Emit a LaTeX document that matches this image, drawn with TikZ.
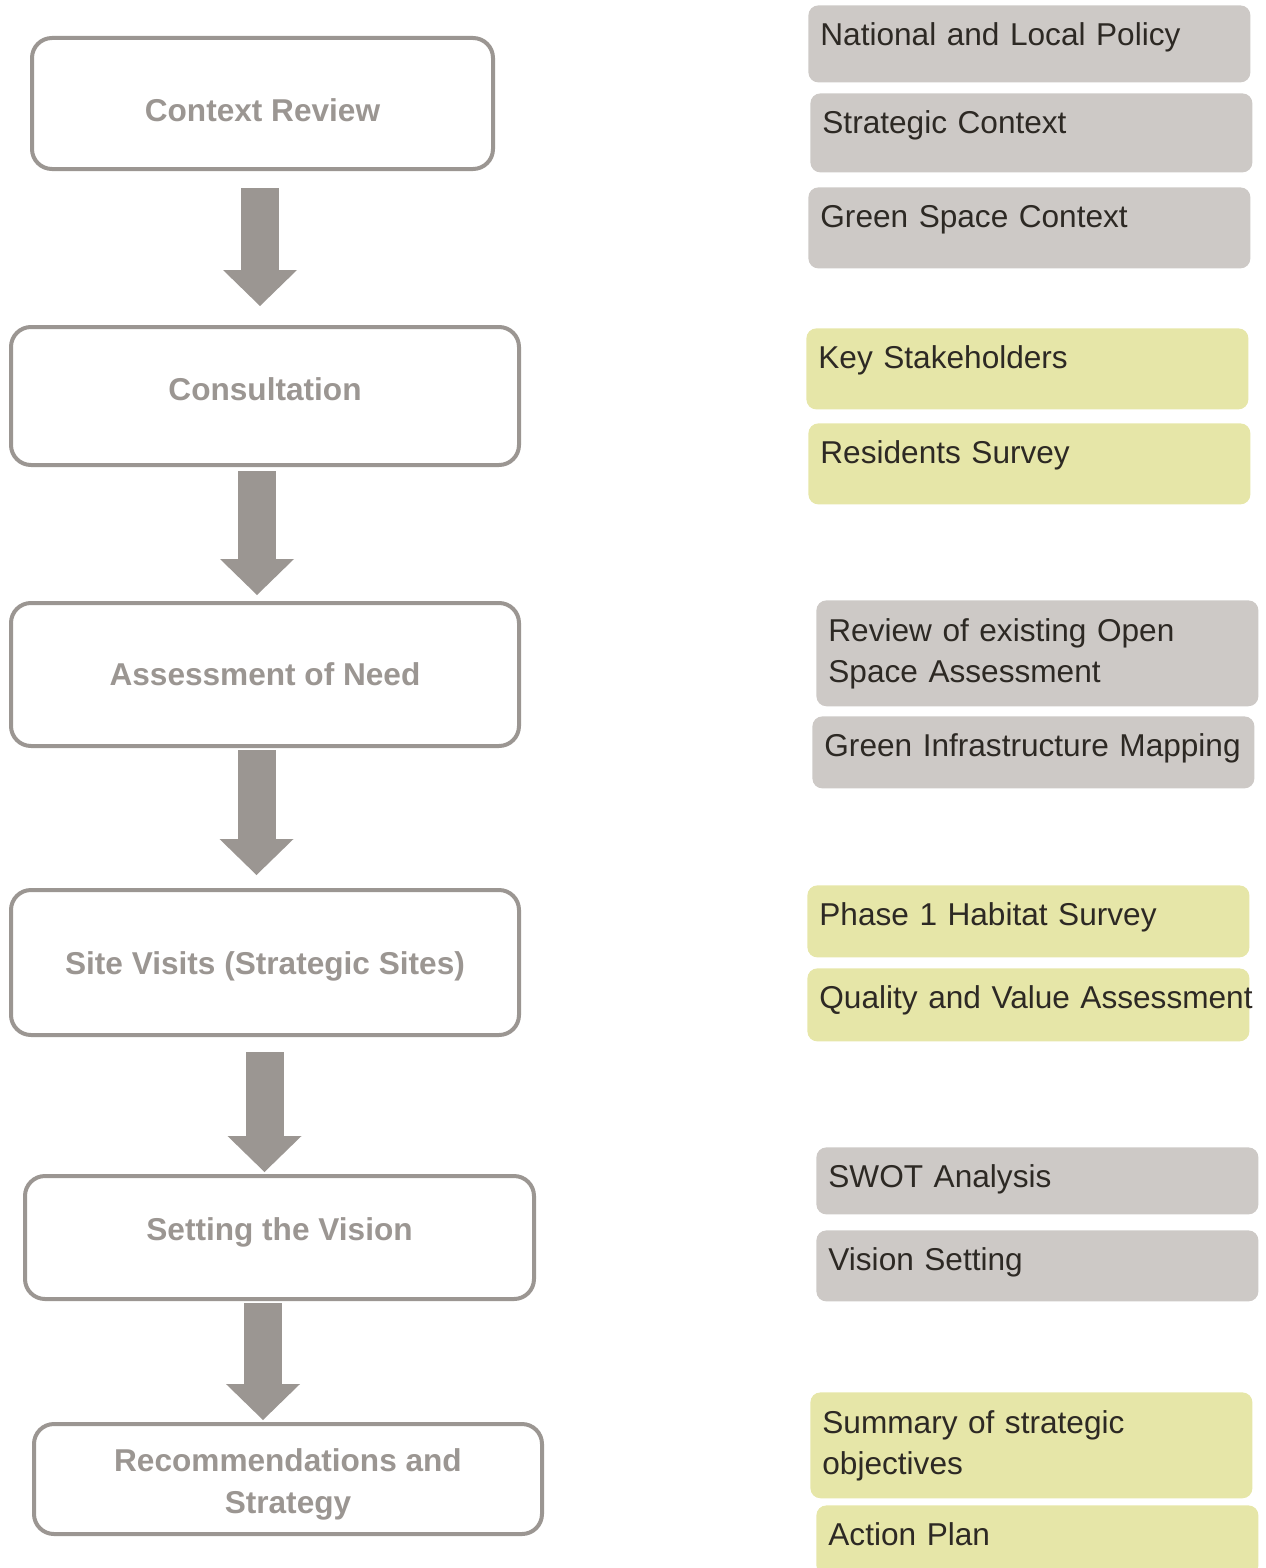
\documentclass[tikz,border=0pt]{standalone}
\usepackage{fontspec}
\setmainfont{Liberation Sans}
\usetikzlibrary{arrows.meta}
\definecolor{stagegrey}{HTML}{9B9692}
\definecolor{notegrey}{HTML}{CDC9C6}
\definecolor{noteyellow}{HTML}{E6E6A8}
\definecolor{notetext}{HTML}{2D2924}

\begin{document}
\begin{tikzpicture}[x=0.5pt,y=-0.5pt,
    stage/.style={draw=stagegrey,line width=2pt,rounded corners=10pt,align=center,
      text=stagegrey,font=\fontsize{15.8}{21}\selectfont\bfseries},
    note/.style={fill=#1,rounded corners=5pt,anchor=north west,inner xsep=6pt,
      inner ysep=8.85pt,text width=209pt,align=left,text=notetext,
      font=\fontsize{15.8}{20.5}\selectfont},
    onerow/.style={text height=11.3pt,text depth=#1},
    flow/.style={stagegrey,line width=19pt,
      -{Triangle[length=18pt,width=37pt,line width=0pt]}}]
  \useasboundingbox (0,0) rectangle (1265,1568);

  % stages
  \node[stage,minimum width=230.5pt,minimum height=65.5pt,text height=18.5pt,text depth=0pt]
    (ctx) at (262.5,103.5) {Context Review};
  \node[stage,minimum width=254pt,minimum height=69pt,text height=11.5pt,text depth=7pt]
    (cons) at (265,396) {Consultation};
  \node[stage,minimum width=254pt,minimum height=71.5pt] (need) at (265,674.5) {Assessment of Need};
  \node[stage,minimum width=254pt,minimum height=72.5pt,text height=15.5pt,text depth=3.3pt]
    (site) at (265,962.5) {Site Visits (Strategic Sites)};
  \node[stage,minimum width=254.5pt,minimum height=61.5pt,text height=11.5pt,text depth=8.3pt]
    (vision) at (279.5,1237.5) {Setting the Vision};
  \node[stage,minimum width=254pt,minimum height=55pt]
    (recs) at (288,1479) {\rule{0pt}{16.5pt}Recommendations and\\Strategy};

  \draw[flow,shorten <=8.5pt,shorten >=9.5pt] ([xshift=-1.25pt]ctx.south) -- ([xshift=-2.5pt]cons.north);
  \draw[flow,shorten <=2pt,shorten >=3pt] ([xshift=-4pt]cons.south) -- ([xshift=-4pt]need.north);
  \draw[flow,shorten <=1pt,shorten >=6.5pt] ([xshift=-4.25pt]need.south) -- ([xshift=-4.25pt]site.north);
  \draw[flow,shorten <=7.5pt,shorten >=1pt] ([xshift=-0.25pt]site.south) -- ([xshift=-7.5pt]vision.north);
  \draw[flow,shorten <=1pt,shorten >=1pt] ([xshift=-8.25pt]vision.south) -- ([xshift=-12.5pt]recs.north);

  % notes
  \node[note=notegrey,onerow=9.5pt] (policy) at (808,5) {National and Local Policy};
  \node[note=notegrey,onerow=10.5pt] (strat) at (810,93) {Strategic Context};
  \node[note=notegrey,onerow=11.5pt] (green) at (808,187) {Green Space Context};
  \node[note=noteyellow,onerow=11.5pt] (stake) at (806,328) {Key Stakeholders};
  \node[note=noteyellow,onerow=11.5pt] (survey) at (808,423) {Residents Survey};
  \node[note=notegrey,minimum height=50pt] (review) at (816,600) {Review of existing Open\\Space Assessment};
  \node[note=notegrey,onerow=7pt] (gimap) at (812,716) {\mbox{Green Infrastructure Mapping}};
  \node[note=noteyellow,onerow=7pt] (habitat) at (807,885) {Phase 1 Habitat Survey};
  \node[note=noteyellow,onerow=7.5pt] (quality) at (807,968) {\mbox{Quality and Value Assessment}};
  \node[note=notegrey,onerow=4.5pt] (swot) at (816,1147) {SWOT Analysis};
  \node[note=notegrey,onerow=6.5pt] (vset) at (816,1230) {Vision Setting};
  \node[note=noteyellow,minimum height=47.5pt] (summary) at (810,1392) {Summary of strategic\\objectives};
  \node[note=noteyellow,onerow=6pt] (plan) at (816,1505) {Action Plan};
\end{tikzpicture}
\end{document}
